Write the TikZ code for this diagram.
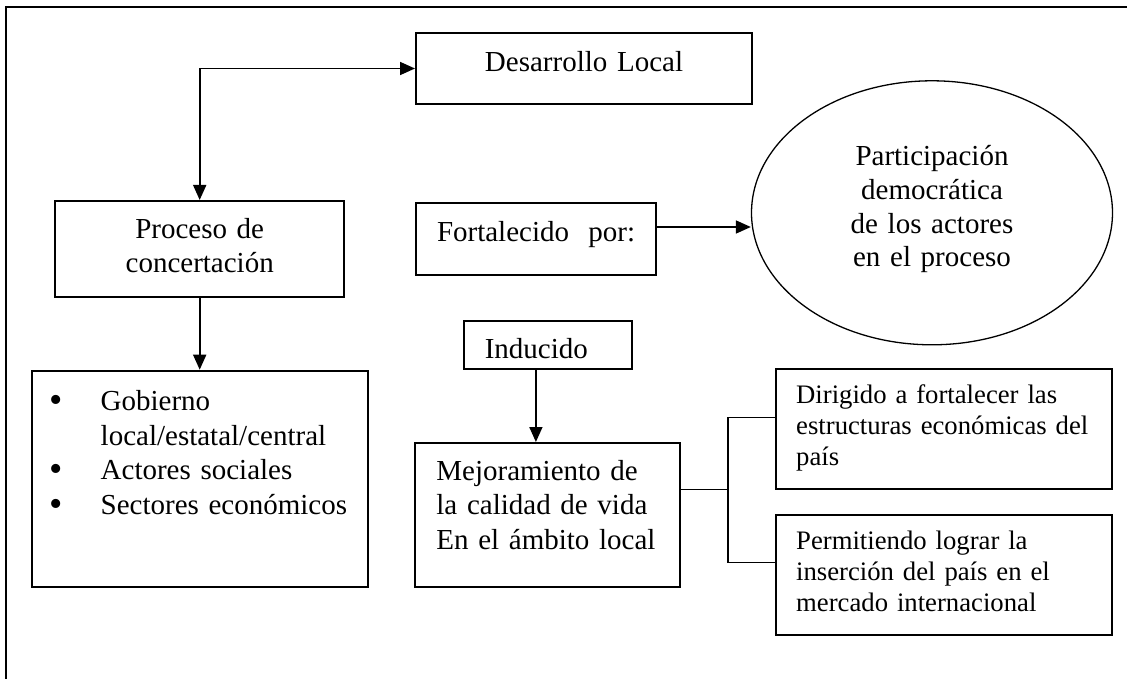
\documentclass[tikz,border=0pt]{standalone}
\usepackage{fontspec}
\setmainfont{Liberation Serif}
\usetikzlibrary{arrows.meta,shapes.geometric,positioning}

\newcommand{\letraN}{\fontsize{29pt}{34.5pt}\selectfont}
\newcommand{\letraC}{\fontsize{26.7pt}{31pt}\selectfont}
\newcommand{\vineta}{\makebox[51pt][l]{\fontsize{38pt}{0pt}\selectfont\raisebox{-2pt}{\textbullet}}}

\begin{document}
\begin{tikzpicture}[
  x=1pt, y=-1pt,
  font=\letraN,
  % --- Estilos de los nodos ---
  caja/.style={
    rectangle,
    draw,
    line width=2pt,
    inner xsep=20pt,
    inner ysep=0pt
  },
  elipse/.style={
    ellipse,
    draw,
    line width=1.3pt,
    inner sep=0pt,
    align=center
  },
  % --- Estilos de las conexiones ---
  flecha/.style={
    -{Triangle[length=15pt, width=13pt]},
    line width=1.7pt
  },
  doble/.style={
    {Triangle[length=15pt, width=13pt]}-{Triangle[length=15pt, width=13pt]},
    line width=1.7pt
  },
  linea/.style={
    line width=1.5pt
  },
  marco/.style={
    line width=2pt
  }
]
\useasboundingbox (0,0) rectangle (1127,679);

% ---- MARCO ----
\draw[marco] (6.4,679) -- (6.4,7.3) -- (1127,7.3);

% ---- COLUMNA IZQUIERDA ----
\node[caja, minimum width=288.6pt, minimum height=96pt, text width=248pt, align=center,
  text height=20pt, text depth=42pt] (pc) at (199.7,249) {Proceso de\\concertación};
\node[caja, minimum width=336.2pt, minimum height=216.3pt, inner xsep=18pt, text width=300pt, align=left,
  text height=20pt, text depth=155.8pt, below=71.7pt of pc] (gob)
  {\vineta Gobierno\\
   \hspace*{51pt}local/estatal/central\\
   \vineta Actores sociales\\
   \vineta Sectores económicos};

% ---- COLUMNA CENTRAL ----
\node[caja, minimum width=336pt, minimum height=71pt, text width=296pt, align=center,
  text height=20pt, text depth=14pt] (dl) at (584,68.5) {Desarrollo Local};
\node[caja, minimum width=240pt, minimum height=72pt, inner xsep=21pt, text width=198pt, align=left,
  text height=20pt, text depth=15.4pt, below=97pt of dl.south west, anchor=north west] (fp)
  {Fortalecido~~por:};
\node[caja, minimum width=168.3pt, minimum height=48pt, inner xsep=21pt, text width=126.3pt, align=left,
  text height=28pt, text depth=1.4pt] (ind) at (547.9,345) {Inducido};
\node[caja, minimum width=265pt, minimum height=144pt, inner xsep=21pt, text width=223pt, align=left,
  text height=20pt, text depth=90pt, below=72pt of ind] (mej)
  {Mejoramiento de\\la calidad de vida\\En el ámbito local};

% ---- COLUMNA DERECHA ----
\node[elipse, minimum width=361pt, minimum height=264pt, text width=200pt,
  font=\fontsize{29pt}{33.7pt}\selectfont,
  text height=20pt, text depth=114.2pt] (par) at (932,212.8)
  {Participación\\democrática\\de los actores\\en el proceso};
\node[caja, minimum width=336.3pt, minimum height=120pt, text width=296pt, align=left, font=\letraC,
  text height=18pt, text depth=69.4pt] (dir) at (944.2,429)
  {Dirigido a fortalecer las\\estructuras económicas del\\país};
\node[caja, minimum width=336.3pt, minimum height=119.7pt, text width=296pt, align=left, font=\letraC,
  text height=18pt, text depth=69.2pt, below=24pt of dir] (per)
  {Permitiendo lograr la\\inserción del país en el\\mercado internacional};

% ---- CONEXIONES ----
\draw[doble] (dl.west) -| (pc.north);
\draw[flecha] (pc.south) -- (gob.north);
\draw[flecha] ([yshift=12pt]fp.east) -- ([yshift=12pt]fp.east -| par.west);
\draw[flecha] ([xshift=-12pt]ind.south) -- ([xshift=-12pt]ind.south |- mej.north);

% Ramificacion hacia las dos cajas de la derecha
\coordinate (rama) at (728.2,489.3);
\draw[linea] (mej.east |- rama) -- (rama);
\draw[linea] ([yshift=11.7pt]dir.west) -| (rama);
\draw[linea] ([yshift=12.2pt]per.west) -| (rama);

\end{tikzpicture}
\end{document}
